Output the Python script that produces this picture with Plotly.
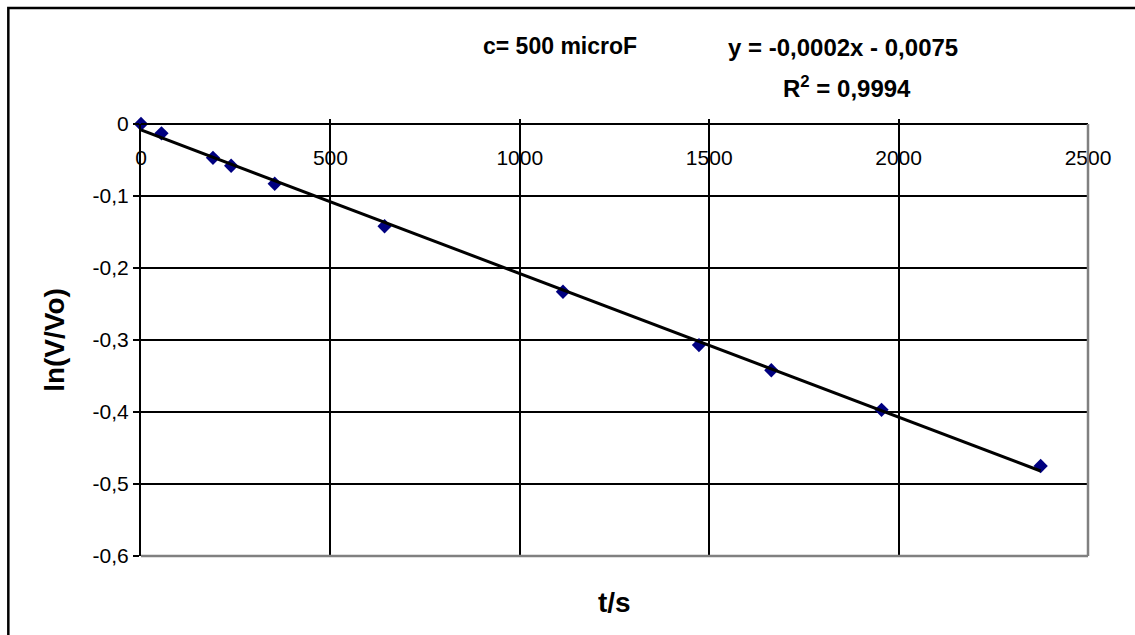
import numpy as np
import plotly.graph_objects as go

# Data
t_s = [0, 54, 190, 238, 353, 643, 1114, 1473, 1664, 1955, 2375]
ln_v = [0, -0.013, -0.047, -0.058, -0.083, -0.142, -0.233, -0.307, -0.342, -0.397, -0.475]

x_tickvals = [0, 500, 1000, 1500, 2000, 2500]
x_ticktext = ["0", "500", "1000", "1500", "2000", "2500"]
y_tickvals = [0, -0.1, -0.2, -0.3, -0.4, -0.5, -0.6]
y_ticktext = ["0", "-0,1", "-0,2", "-0,3", "-0,4", "-0,5", "-0,6"]

title_text = "c= 500 microF"
eq_text = "y = -0,0002x - 0,0075"
r2_text = "R<sup>2</sup> = 0,9994"

# Linear trendline (least squares over the data)
slope, intercept = np.polyfit(t_s, ln_v, 1)
trend_x = [0, max(t_s)]
trend_y = [intercept + slope * v for v in trend_x]

FONT = "Liberation Sans, Arial, sans-serif"

fig = go.Figure()
fig.add_trace(go.Scatter(
    x=t_s, y=ln_v, mode="markers",
    marker=dict(symbol="diamond", size=11, color="#000080"),
    cliponaxis=False,
    showlegend=False,
))
fig.add_trace(go.Scatter(
    x=trend_x, y=trend_y, mode="lines",
    line=dict(color="black", width=3),
    showlegend=False,
))

fig.update_layout(
    width=1135, height=635,
    margin=dict(l=141, r=47, t=124, b=79),
    paper_bgcolor="white", plot_bgcolor="white",
    font=dict(family=FONT, color="black", size=20),
    xaxis=dict(
        range=[0, 2500], side="bottom", anchor="free", position=1,
        tickvals=x_tickvals, ticktext=x_ticktext,
        ticks="inside", ticklen=4, tickcolor="black", tickwidth=1.5,
        ticklabelstandoff=15,
        showline=True, linecolor="black", linewidth=2,
        showgrid=True, gridcolor="black", gridwidth=1.5,
        zeroline=False,
        tickfont=dict(size=21, family=FONT, color="black"),
    ),
    yaxis=dict(
        range=[-0.6, 0],
        tickvals=y_tickvals, ticktext=y_ticktext,
        ticks="outside", ticklen=6, tickcolor="black", tickwidth=1.5,
        showline=True, linecolor="black", linewidth=2,
        showgrid=True, gridcolor="black", gridwidth=1.5,
        zeroline=False,
        tickfont=dict(size=21, family=FONT, color="black"),
        title=dict(text="<b>ln(V/Vo)</b>", font=dict(size=28, family=FONT, color="black"), standoff=20),
    ),
    shapes=[
        dict(type="line", xref="paper", yref="paper", x0=1, x1=1, y0=0, y1=1,
             line=dict(color="#808080", width=2.5)),
        dict(type="line", xref="paper", yref="paper", x0=0, x1=1, y0=0, y1=0,
             line=dict(color="#808080", width=2.5)),
        dict(type="rect", xref="paper", yref="paper",
             x0=-0.1401, x1=1.3, y0=-0.5, y1=1.2685,
             line=dict(color="black", width=2.5), fillcolor="rgba(0,0,0,0)", layer="above"),
    ],
    annotations=[
        dict(text="<b>" + title_text + "</b>", xref="paper", yref="paper",
             x=(560 - 140.7) / 947.3, y=(556 - 46) / 432, xanchor="center", yanchor="middle",
             showarrow=False, font=dict(size=23, family=FONT, color="black")),
        dict(text="<b>" + eq_text + "</b>", xref="paper", yref="paper",
             x=(843 - 140.7) / 947.3, y=(556 - 47) / 432, xanchor="center", yanchor="middle",
             showarrow=False, font=dict(size=24, family=FONT, color="black")),
        dict(text="<b>" + r2_text + "</b>", xref="paper", yref="paper",
             x=(847 - 140.7) / 947.3, y=(556 - 87) / 432, xanchor="center", yanchor="middle",
             showarrow=False, font=dict(size=24, family=FONT, color="black")),
        dict(text="<b>t/s</b>", xref="paper", yref="paper",
             x=(614 - 140.7) / 947.3, y=(556 - 602) / 432, xanchor="center", yanchor="middle",
             showarrow=False, font=dict(size=28, family=FONT, color="black")),
    ],
)

fig.write_html("out.html")
